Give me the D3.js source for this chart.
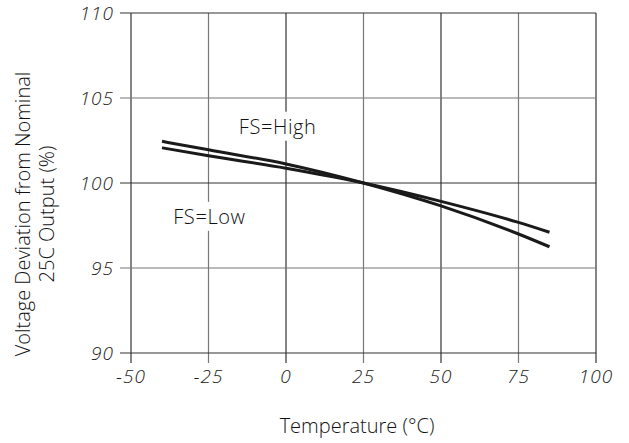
<!DOCTYPE html>
<html><head><meta charset="utf-8">
<script src="https://cdn.jsdelivr.net/npm/d3@7/dist/d3.min.js"></script>
<style>
html,body{margin:0;padding:0;background:#fff;}
svg{display:block;}
.tick-label{font-family:"Open Sans",sans-serif;font-style:italic;font-weight:300;fill:#222;letter-spacing:1px;}
.title{font-family:"Open Sans",sans-serif;font-weight:300;fill:#111;}
</style>
</head><body>
<svg id="chart" width="629" height="443"></svg>
<script>
const temps = [-40, -25, 0, 25, 50, 75, 85];
const fsHigh = [102.45, 101.95, 101.12, 100, 98.65, 97.0, 96.25];
const fsLow = [102.07, 101.6, 100.87, 100, 98.92, 97.68, 97.1];
const xTicks = [-50, -25, 0, 25, 50, 75, 100];
const yTicks = [90, 95, 100, 105, 110];
const seriesLabels = ["FS=High", "FS=Low"];

const svg = d3.select("#chart");
const x = d3.scaleLinear().domain([-50, 100]).range([131, 596]);
const y = d3.scaleLinear().domain([90, 110]).range([353, 13]);

// grid
const g = svg.append("g");
xTicks.forEach((t, i) => {
  g.append("line").attr("x1", x(t)).attr("x2", x(t)).attr("y1", y(110)).attr("y2", y(90) + 10)
    .attr("stroke", i % 2 === 0 ? "#333" : "#777").attr("stroke-width", 1.2);
});
yTicks.forEach((t, i) => {
  g.append("line").attr("x1", x(-50) - 11).attr("x2", x(100)).attr("y1", y(t)).attr("y2", y(t))
    .attr("stroke", i % 2 === 0 ? "#333" : "#777").attr("stroke-width", 1.2);
});

// tick labels
xTicks.forEach(t => {
  svg.append("text").attr("class", "tick-label").attr("x", x(t)).attr("y", y(90) + 30)
    .attr("text-anchor", "middle").attr("font-size", 19).text(t);
});
yTicks.forEach(t => {
  svg.append("text").attr("class", "tick-label").attr("x", x(-50) - 17).attr("y", y(t) + 7)
    .attr("text-anchor", "end").attr("font-size", 19).text(t);
});

// label boxes + labels
const labelPos = [[x(-2.7), y(102.9)], [x(-24.7), y(97.6)]];
seriesLabels.forEach((s, i) => {
  const t = svg.append("text").attr("class", "title").attr("x", labelPos[i][0]).attr("y", labelPos[i][1])
    .attr("text-anchor", "middle").attr("font-size", 20).attr("letter-spacing", 0.6).text(s);
  const bb = t.node().getBBox();
  svg.insert("rect", "text").attr("x", bb.x - 3).attr("y", bb.y - 1).attr("width", bb.width + 6)
    .attr("height", bb.height + 2).attr("fill", "#fff");
});

// curves
const line = d3.line().x(d => x(d[0])).y(d => y(d[1])).curve(d3.curveMonotoneX);
[fsHigh, fsLow].forEach(vals => {
  svg.append("path").datum(temps.map((t, i) => [t, vals[i]]))
    .attr("d", line).attr("fill", "none").attr("stroke", "#1a1a1a").attr("stroke-width", 3);
});

// axis titles
svg.append("text").attr("class", "title").attr("x", 357).attr("y", 433)
  .attr("text-anchor", "middle").attr("font-size", 20).text("Temperature (°C)");
const yt = svg.append("text").attr("class", "title").attr("transform", "translate(0,214) rotate(-90)")
  .attr("text-anchor", "middle").attr("font-size", 20);
yt.append("tspan").attr("x", 0).attr("y", 30).text("Voltage Deviation from Nominal");
yt.append("tspan").attr("x", 0).attr("y", 54).text("25C Output (%)");
</script>
</body></html>
